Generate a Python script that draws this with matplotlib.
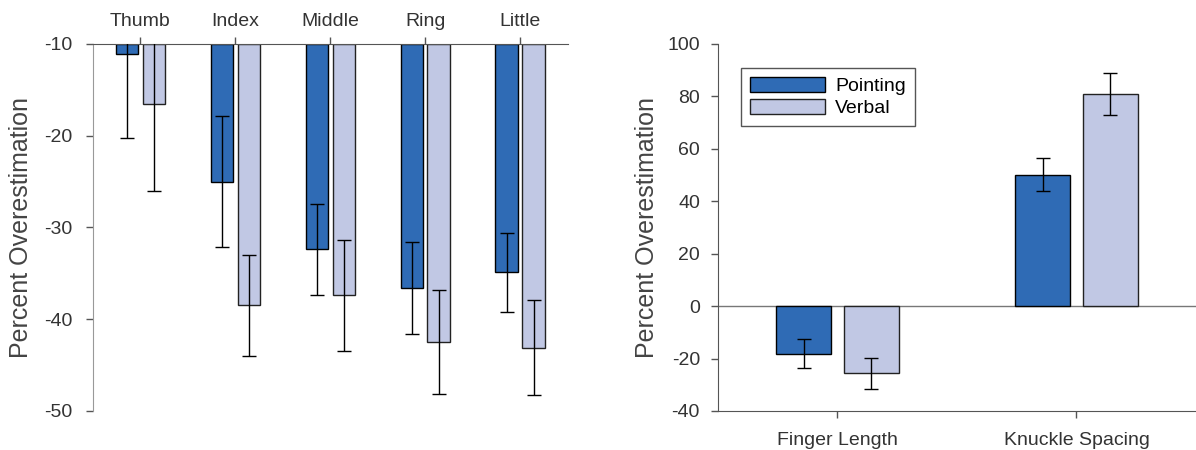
import numpy as np
import matplotlib
matplotlib.use("Agg")
import matplotlib.pyplot as plt

plt.rcParams['font.family'] = ['Liberation Sans', 'DejaVu Sans']
plt.rcParams['axes.unicode_minus'] = False

# left panel: individual fingers
fingers = ["Thumb", "Index", "Middle", "Ring", "Little"]
finger_pointing = [-11.1, -25.0, -32.4, -36.6, -34.9]
finger_pointing_err = [9.2, 7.1, 4.95, 5.05, 4.3]
finger_verbal = [-16.5, -38.5, -37.4, -42.5, -43.1]
finger_verbal_err = [9.5, 5.55, 6.05, 5.65, 5.2]

# right panel: summary measures
measures = ["Finger Length", "Knuckle Spacing"]
meas_pointing = [-18.1, 50.1]
meas_pointing_err = [5.6, 6.35]
meas_verbal = [-25.6, 80.9]
meas_verbal_err = [6.0, 8.15]

c_point = "#2f6bb5"
c_verb = "#c1c8e4"
txt = "#333333"
spine_c = "#555555"

fig = plt.figure(figsize=(11.96, 4.5), dpi=100)
ax1 = fig.add_axes([0.0778, 0.0867, 0.3967, 0.8156])
ax2 = fig.add_axes([0.6003, 0.0867, 0.3997, 0.8156])

w = 0.235
off = 0.142
ekw = dict(fmt='none', ecolor='black', elinewidth=1, capsize=5, capthick=1, zorder=3)

# ---- left
x = np.arange(len(fingers))
top = -10
ax1.bar(x - off, np.array(finger_pointing) - top, w, bottom=top, color=c_point,
        edgecolor='black', linewidth=1, zorder=2)
ax1.bar(x + off, np.array(finger_verbal) - top, w, bottom=top, color=c_verb,
        edgecolor='#222222', linewidth=1, zorder=2)
ax1.errorbar(x - off, finger_pointing, yerr=finger_pointing_err, **ekw)
ax1.errorbar(x + off, finger_verbal, yerr=finger_verbal_err, **ekw)
ax1.set_xlim(-0.5, 4.5)
ax1.set_ylim(-50, -10)
ax1.set_yticks([-10, -20, -30, -40, -50])
ax1.set_xticks(x)
ax1.set_xticklabels(fingers)
ax1.xaxis.tick_top()
ax1.spines['bottom'].set_visible(False)
ax1.spines['right'].set_visible(False)
ax1.spines['top'].set_color(spine_c)
ax1.spines['left'].set_color('#999999')
ax1.set_ylabel("Percent Overestimation", fontsize=18, color='#444444', labelpad=8)

# ---- right
x2 = np.arange(len(measures))
ax2.bar(x2 - off, meas_pointing, 0.23, color=c_point, edgecolor='black', linewidth=1,
        zorder=2, label="Pointing")
ax2.bar(x2 + off, meas_verbal, 0.23, color=c_verb, edgecolor='#222222', linewidth=1,
        zorder=2, label="Verbal")
ax2.errorbar(x2 - off, meas_pointing, yerr=meas_pointing_err, **ekw)
ax2.errorbar(x2 + off, meas_verbal, yerr=meas_verbal_err, **ekw)
ax2.axhline(0, color='#777777', linewidth=1, zorder=1)
ax2.set_xlim(-0.5, 1.5)
ax2.set_ylim(-40, 100)
ax2.set_yticks(np.arange(-40, 101, 20))
ax2.set_xticks(x2)
ax2.set_xticklabels(measures)
ax2.spines['top'].set_visible(False)
ax2.spines['right'].set_visible(False)
ax2.spines['left'].set_color(spine_c)
ax2.spines['bottom'].set_color(spine_c)
ax2.set_ylabel("Percent Overestimation", fontsize=18, color='#444444', labelpad=6)
leg = ax2.legend(loc='upper left', bbox_to_anchor=(0.048, 0.935), borderaxespad=0,
                 fontsize=14, handlelength=3.9, handleheight=0.85, fancybox=False,
                 framealpha=1, borderpad=0.45, labelspacing=0.2, handletextpad=0.5)
leg.get_frame().set_edgecolor('#555555')
leg.get_frame().set_linewidth(1)

for ax in (ax1, ax2):
    ax.tick_params(axis='both', direction='out', length=5, width=1, colors=spine_c,
                   labelcolor=txt, labelsize=14)
ax1.tick_params(axis='y', pad=10)
ax2.tick_params(axis='y', pad=8)
ax1.tick_params(axis='x', pad=5)
ax2.tick_params(axis='x', pad=10)

fig.savefig("out.png", dpi=100)
